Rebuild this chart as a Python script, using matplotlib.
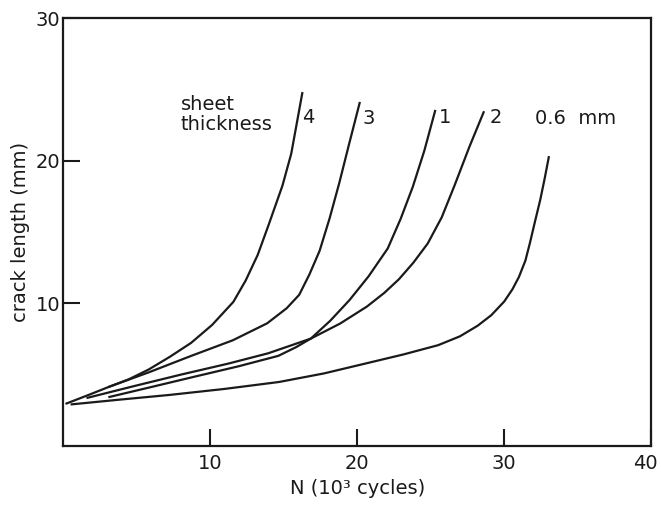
import numpy as np
import matplotlib
matplotlib.use('Agg')
import matplotlib.pyplot as plt
from matplotlib.transforms import ScaledTranslation

plt.rcParams['font.family'] = ['DejaVu Sans']
plt.rcParams['font.size'] = 14

# crack growth curves (N in 10^3 cycles, crack length in mm)
n_06 = [0.59, 3.85, 7.24, 10.97, 14.7, 17.75, 20.8, 23.15, 25.51, 26.99, 28.19,
        29.12, 30.0, 30.56, 31.0, 31.44, 31.74, 32.1, 32.45, 32.75, 33.03]
a_06 = [2.92, 3.25, 3.58, 4.0, 4.49, 5.09, 5.84, 6.42, 7.07, 7.69, 8.43,
        9.17, 10.13, 10.99, 11.85, 13.0, 14.2, 15.77, 17.26, 18.75, 20.25]

n_2 = [1.67, 4.83, 8.08, 11.25, 13.95, 16.85, 18.85, 20.67, 21.85, 22.84,
       23.82, 24.8, 25.75, 26.62, 27.63, 28.6]
a_2 = [3.38, 4.2, 5.02, 5.78, 6.5, 7.53, 8.59, 9.78, 10.74, 11.69,
       12.85, 14.2, 16.03, 18.26, 20.97, 23.4]

n_1 = [3.16, 5.86, 8.9, 11.94, 14.64, 15.85, 16.85, 18.17, 19.48, 20.78,
       22.08, 22.96, 23.78, 24.57, 25.3]
a_1 = [3.44, 4.1, 4.85, 5.59, 6.32, 6.93, 7.53, 8.78, 10.23, 11.9,
       13.85, 15.93, 18.16, 20.71, 23.49]

n_3 = [0.24, 1.79, 3.13, 5.82, 8.72, 11.54, 13.88, 15.21, 16.06, 16.76,
       17.45, 18.13, 18.79, 19.45, 20.17]
a_3 = [2.98, 3.6, 4.15, 5.16, 6.32, 7.41, 8.6, 9.66, 10.6, 12.04,
       13.69, 15.97, 18.46, 21.16, 24.05]

n_4 = [3.13, 4.48, 5.82, 7.29, 8.71, 10.14, 11.58, 12.42, 13.24, 13.98,
       14.92, 15.52, 16.27]
a_4 = [4.15, 4.68, 5.36, 6.27, 7.23, 8.49, 10.1, 11.6, 13.4, 15.5,
       18.25, 20.5, 24.74]

curve_labels = ['4', '3', '1', '2', '0.6  mm']
label_x = [16.7, 20.8, 26.0, 29.4, 34.85]
label_y = [23.05, 22.95, 23.05, 23.0, 22.95]

x_ticks = [10, 20, 30, 40]
y_ticks = [10, 20, 30]

fig = plt.figure(figsize=(6.61, 5.18), dpi=100)
ax = fig.add_axes([0.0953, 0.139, 0.890, 0.826])

for n, a in [(n_06, a_06), (n_2, a_2), (n_1, a_1), (n_3, a_3), (n_4, a_4)]:
    ax.plot(n, a, color='#1a1a1a', lw=1.6, solid_joinstyle='round')

for lab, x, y in zip(curve_labels, label_x, label_y):
    ax.text(x, y, lab, ha='center', va='center', color='#1a1a1a')

ax.text(8.0, 23.95, 'sheet', ha='left', va='center', color='#1a1a1a')
ax.text(8.0, 22.55, 'thickness', ha='left', va='center', color='#1a1a1a')

ax.set_xlim(0, 40)
ax.set_ylim(0, 30)
ax.set_xticks(x_ticks)
ax.set_yticks(y_ticks)
ax.tick_params(axis='both', direction='in', length=12, width=1.5, colors='#1a1a1a')
ax.tick_params(axis='x', pad=6)
ax.tick_params(axis='y', pad=2)
for s in ax.spines.values():
    s.set_linewidth(1.6)
    s.set_color('#1a1a1a')

# pull the "40" label a little inside so it is not clipped
last = ax.get_xticklabels()[-1]
last.set_transform(last.get_transform() + ScaledTranslation(-6 / 100, 0, fig.dpi_scale_trans))

ax.set_xlabel('N (10³ cycles)', color='#1a1a1a', labelpad=4)
ax.set_ylabel('crack length (mm)', color='#1a1a1a', labelpad=4)

fig.savefig('out.png', dpi=100)
